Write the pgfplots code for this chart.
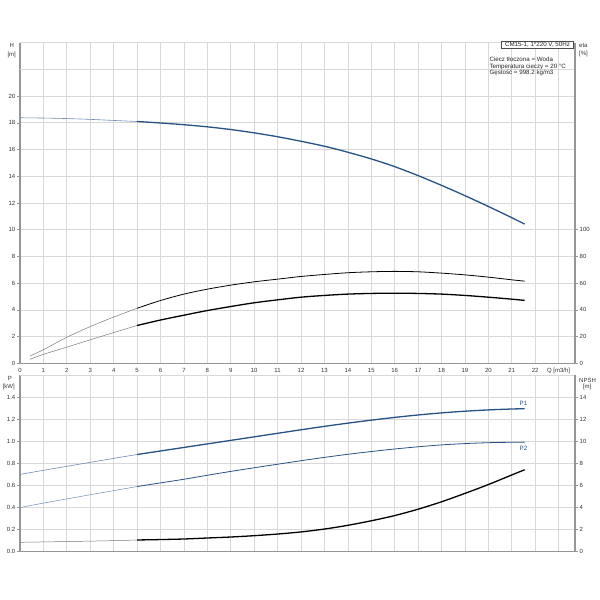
\documentclass[border=0pt]{standalone}
\usepackage{pgfplots}
\pgfplotsset{compat=1.18}
\usepackage{fontspec}
\setmainfont{Liberation Sans}
\definecolor{cblue}{RGB}{38,82,132}
\definecolor{cbluelt}{RGB}{110,140,178}
\definecolor{gridc}{RGB}{216,216,216}
\definecolor{axc}{RGB}{150,150,150}
\definecolor{thinc}{RGB}{120,120,120}

\begin{document}
\begin{tikzpicture}
\path[use as bounding box] (0pt,0pt) rectangle (600pt,600pt);
\pgfplotsset{
 base/.style={scale only axis, width=555pt, xmin=0, xmax=23.7, anchor=south west,
  /pgf/number format/assume math mode=true,
  ticklabel style={font=\fontsize{6}{7}\selectfont, text=black!80},
  major tick length=3pt, tick align=outside,
  tick style={axc, line width=0.6pt},
  axis line style={axc, line width=1.3pt},
  grid style={gridc, line width=0.7pt},
  clip=false,
 },
 thinH/.style={cbluelt, line width=0.6pt, smooth},
 thickH/.style={cblue, line width=1.3pt, smooth},
}

% ---------------- upper: H ----------------
\begin{axis}[base, at={(20pt,236.7pt)}, height=320.6pt,
  ymin=0, ymax=24,
  axis x line*=bottom, axis y line*=left,
  xtick={0,...,23},
  xticklabels={0,1,2,3,4,5,6,7,8,9,10,11,12,13,14,15,16,17,18,19,20,21,22,{Q [m3/h]}},
  xtick style={draw=none},
  xticklabel style={inner sep=1.5pt},
  ytick={0,2,...,20},
  extra y ticks={22,24}, extra y tick labels={},
  extra y tick style={tick style={draw=none}},
  yticklabel style={inner sep=1.5pt},
  xmajorgrids, ymajorgrids,
]
\addplot[thinH] coordinates {(0,18.38) (1,18.36) (2,18.32) (3,18.26) (4,18.18) (5,18.10)};
\addplot[thickH] coordinates {(5,18.10) (6,17.99) (7,17.86) (8,17.70) (9,17.50) (10,17.25) (11,16.96) (12,16.62) (13,16.25) (14,15.80) (15,15.30) (16,14.72) (17,14.05) (18,13.32) (19,12.55) (20,11.74) (21,10.90) (21.55,10.42)};
\end{axis}

% ---------------- upper: eta ----------------
\begin{axis}[base, at={(20pt,236.7pt)}, height=320.6pt,
  ymin=0, ymax=240,
  hide x axis, axis y line*=right,
  ytick={0,20,...,100}, ytick pos=right,
  yticklabel style={inner sep=1.5pt},
]
\addplot[thinc, line width=0.5pt, smooth] coordinates {(0.43,5.5) (1,10.2) (2,19.5) (3,27.5) (4,34.6) (5,41.2)};
\addplot[black, line width=0.8pt, smooth] coordinates {(5,41.2) (6,47) (7,51.8) (8,55.5) (9,58.5) (10,61) (11,63) (12,65) (13,66.5) (14,67.8) (15,68.5) (16,68.8) (17,68.5) (18,67.5) (19,66.2) (20,64.5) (21,62.5) (21.55,61.5)};
\addplot[thinc, line width=0.5pt, smooth] coordinates {(0.43,3) (1,6.7) (2,12.1) (3,17.6) (4,23) (5,28.3)};
\addplot[black, line width=1.3pt, smooth] coordinates {(5,28.3) (6,32.4) (7,36) (8,39.5) (9,42.5) (10,45.3) (11,47.5) (12,49.5) (13,50.8) (14,51.8) (15,52.3) (16,52.5) (17,52.3) (18,51.8) (19,50.8) (20,49.5) (21,48) (21.55,47.1)};
\end{axis}

% ---------------- lower: P ----------------
\begin{axis}[base, at={(20pt,48.3pt)}, height=176.7pt,
  ymin=0, ymax=1.6,
  axis x line*=bottom, axis y line*=left,
  xtick={0,...,23}, xticklabels={},
  xtick style={draw=none},
  ytick={0,0.2,...,1.4},
  yticklabel style={inner sep=1.5pt, /pgf/number format/.cd, fixed, fixed zerofill, precision=1},
  extra y ticks={1.6}, extra y tick labels={},
  extra y tick style={tick style={draw=none}},
  xmajorgrids, ymajorgrids,
]
\addplot[cbluelt, line width=0.6pt, smooth] coordinates {(0,0.70) (1,0.737) (2,0.773) (3,0.809) (4,0.845) (5,0.88)};
\addplot[cblue, line width=1.3pt, smooth] coordinates {(5,0.88) (6,0.912) (7,0.944) (8,0.976) (9,1.008) (10,1.04) (11,1.072) (12,1.104) (13,1.135) (14,1.164) (15,1.191) (16,1.216) (17,1.238) (18,1.257) (19,1.272) (20,1.284) (21,1.292) (21.55,1.295)};
\addplot[cbluelt, line width=0.5pt, smooth] coordinates {(0,0.40) (1,0.44) (2,0.478) (3,0.516) (4,0.553) (5,0.59)};
\addplot[cblue, line width=0.8pt, smooth] coordinates {(5,0.59) (6,0.623) (7,0.656) (8,0.692) (9,0.727) (10,0.76) (11,0.792) (12,0.824) (13,0.854) (14,0.882) (15,0.907) (16,0.93) (17,0.95) (18,0.967) (19,0.979) (20,0.987) (21,0.991) (21.55,0.992)};
\node[cblue, font=\fontsize{6.2}{7}\selectfont] at (axis cs:21.5,1.345) {P1};
\node[cblue, font=\fontsize{6.2}{7}\selectfont] at (axis cs:21.5,0.94) {P2};
\end{axis}

% ---------------- lower: NPSH ----------------
\begin{axis}[base, at={(20pt,48.3pt)}, height=176.7pt,
  ymin=0, ymax=16,
  hide x axis, axis y line*=right,
  ytick={0,2,...,14}, ytick pos=right,
  yticklabel style={inner sep=1.5pt},
]
\addplot[thinc, line width=0.5pt, smooth] coordinates {(0,0.85) (2,0.92) (4,1.0) (5,1.06)};
\addplot[black, line width=1.3pt, smooth] coordinates {(5,1.06) (6,1.1) (7,1.15) (8,1.24) (9,1.33) (10,1.45) (11,1.6) (12,1.79) (13,2.05) (14,2.39) (15,2.8) (16,3.27) (17,3.85) (18,4.52) (19,5.28) (20,6.08) (21,6.95) (21.55,7.42)};
\end{axis}

% ---------------- texts ----------------
\begin{scope}[every node/.style={font=\fontsize{6}{7}\selectfont, text=black!80, inner sep=0pt}]
\node at (11.7pt,554.7pt) {H};
\node at (11.7pt,545.5pt) {[m]};
\node[anchor=west] at (579pt,554.2pt) {eta};
\node[anchor=west] at (579pt,546pt) {[\%]};
\node at (10pt,221.7pt) {P};
\node at (8.8pt,212.7pt) {[kW]};
\node at (587.5pt,219.7pt) {NPSH};
\node at (587.2pt,212.7pt) {[m]};
\end{scope}
\draw[black!70, line width=0.5pt, fill=white] (501.7pt,551.7pt) rectangle (573.3pt,559pt);
\begin{scope}[every node/.style={font=\fontsize{6.2}{7}\selectfont, text=black!85, inner sep=0pt}]
\node at (537.5pt,555.3pt) {CM15-1, 1*220 V, 50Hz};
\node[anchor=west] at (489.3pt,540.7pt) {Ciecz tłoczona = Woda};
\node[anchor=west] at (489.3pt,533.3pt) {Temperatura cieczy = 20 °C};
\node[anchor=west] at (489.3pt,526.7pt) {Gęstość = 998.2 kg/m3};
\end{scope}
\end{tikzpicture}
\end{document}
